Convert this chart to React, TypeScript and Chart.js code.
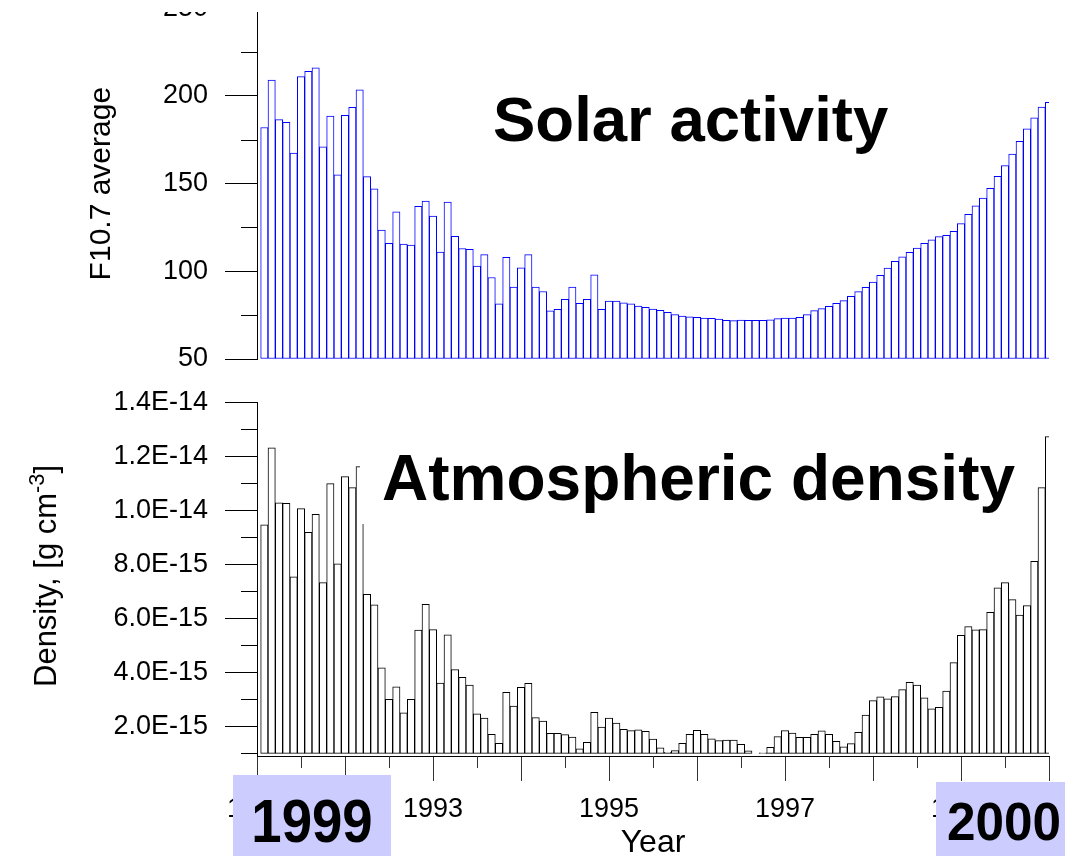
import React, { useEffect, useRef } from 'react';
import { Chart, registerables } from 'chart.js';

Chart.register(...registerables);

const FONT = "'Liberation Sans', Arial, Helvetica, sans-serif";
Chart.defaults.font.family = FONT;
Chart.defaults.color = '#000';

// ---- data ----
const startYear = 1991;
const endYear = 2000;

// monthly F10.7 averages (108 months, 1991-1999)
const solarF107 = [
  182, 209, 186.5, 185, 167.5, 211, 214, 216, 171, 188.5, 155, 189,
  193.5, 203.5, 154, 147, 123.5, 116, 134, 115.5, 115, 137, 140, 131.5,
  111, 139.5, 120, 113, 112.5, 103, 109.5, 96.5, 81.5, 108, 91, 102,
  109.5, 91, 88.5, 77.5, 78.3, 84, 91, 81.7, 84, 98, 78.3, 83,
  83, 82, 81.4, 80.2, 79.5, 78.5, 77.8, 76.6, 75.3, 74.5, 74, 73.8,
  73.4, 73.2, 72.8, 72, 71.9, 72.2, 72, 72, 72, 72.4, 73, 73.4,
  73.4, 73.8, 75.3, 77.6, 78.7, 80, 81.7, 83.3, 85.7, 88.4, 90.9, 93.9,
  97.7, 101.9, 105.7, 108.2, 110.8, 113.3, 116, 118, 119.8, 120.5, 122.8, 127.2,
  132.5, 137.3, 141.7, 147.4, 154.2, 160.3, 166.9, 174.2, 181.2, 187.5, 193.7, 196.4,
];

// monthly atmospheric density in units of 1e-15 g cm^-3
const DENSITY_UNIT = 1e-15;
const densityE15 = [
  9.46, 12.31, 10.28, 10.26, 7.54, 10.06, 9.18, 9.85, 7.32, 10.99, 8.02, 11.25,
  10.84, 11.62, 6.89, 6.5, 4.17, 3.0, 3.46, 2.5, 3.0, 5.56, 6.52, 5.58,
  3.6, 5.39, 4.1, 3.81, 3.53, 2.46, 2.3, 1.7, 1.37, 3.26, 2.75, 3.44,
  3.59, 2.32, 2.19, 1.74, 1.74, 1.69, 1.6, 1.17, 1.41, 2.52, 1.97, 2.3,
  2.12, 1.89, 1.84, 1.87, 1.81, 1.53, 1.2, 1.04, 1.1, 1.37, 1.7, 1.85,
  1.7, 1.54, 1.47, 1.49, 1.49, 1.33, 1.09, 1.0, 1.02, 1.22, 1.62, 1.84,
  1.75, 1.59, 1.59, 1.7, 1.83, 1.7, 1.44, 1.24, 1.36, 1.78, 2.42, 2.95,
  3.09, 3.02, 3.1, 3.36, 3.63, 3.53, 3.05, 2.65, 2.7, 3.3, 4.36, 5.37,
  5.69, 5.57, 5.58, 6.22, 7.13, 7.32, 6.69, 6.12, 6.47, 8.11, 10.84, 12.73,
];

// ticks
const topMajorTicks = [50, 100, 150, 200, 250];
const topTickLabels = ['50', '100', '150', '200', '250'];
const topMinorTicks = [75, 125, 175, 225];

const densityMajorTicks = [2e-15, 4e-15, 6e-15, 8e-15, 1e-14, 1.2e-14, 1.4e-14];
const densityTickLabels = ['2.0E-15', '4.0E-15', '6.0E-15', '8.0E-15', '1.0E-14', '1.2E-14', '1.4E-14'];
const densityMinorTicks = [1e-15, 3e-15, 5e-15, 7e-15, 9e-15, 1.1e-14, 1.3e-14];

const yearTicks = [1991, 1992, 1993, 1994, 1995, 1996, 1997, 1998, 1999, 2000];
const yearLabels = ['1991', '', '1993', '', '1995', '', '1997', '', '1999', ''];
const halfYearTicks = [1991.5, 1992.5, 1993.5, 1994.5, 1995.5, 1996.5, 1997.5, 1998.5, 1999.5];

// ---- plugin for short (minor) tick marks ----
const minorTicksPlugin = {
  id: 'minorTicks',
  afterDraw(chart: any, _args: any, opts: any) {
    const { ctx, chartArea } = chart;
    ctx.save();
    ctx.lineWidth = 1;
    if (opts.y) {
      ctx.strokeStyle = opts.yColor || '#000';
      ctx.beginPath();
      opts.y.forEach((v: number) => {
        const py = Math.round(chart.scales.y.getPixelForValue(v)) + 0.5;
        ctx.moveTo(Math.round(chartArea.left) - opts.yLen, py);
        ctx.lineTo(Math.round(chartArea.left), py);
      });
      ctx.stroke();
    }
    if (opts.x) {
      ctx.strokeStyle = opts.xColor || '#000';
      ctx.beginPath();
      opts.x.forEach((v: number) => {
        const px = Math.round(chart.scales.x.getPixelForValue(v)) + 0.5;
        ctx.moveTo(px, Math.round(chartArea.bottom));
        ctx.lineTo(px, Math.round(chartArea.bottom) + opts.xLen);
      });
      ctx.stroke();
    }
    ctx.restore();
  },
};

const monthX = (i: number) => startYear + (i + 1) / 12;

function makeTopConfig(): any {
  return {
    type: 'bar',
    data: {
      datasets: [
        {
          data: solarF107.map((v, i) => ({ x: monthX(i), y: v })),
          backgroundColor: '#ffffff',
          borderColor: '#0000ff',
          borderWidth: 1,
          borderSkipped: false,
          barPercentage: 1,
          categoryPercentage: 1,
          base: 50,
          clip: 0,
        },
      ],
    },
    options: {
      animation: false,
      responsive: false,
      layout: { padding: { top: 8.3, right: 16, bottom: 13, left: 0 } },
      plugins: {
        legend: { display: false },
        tooltip: { enabled: false },
        minorTicks: { y: topMinorTicks, yLen: 16, yColor: '#000' },
      },
      scales: {
        x: {
          type: 'linear',
          display: false,
          offset: false,
          grid: { offset: false },
          min: startYear,
          max: endYear,
        },
        y: {
          type: 'linear',
          min: 50,
          max: 250,
          afterBuildTicks: (s: any) => {
            s.ticks = topMajorTicks.map((v) => ({ value: v }));
          },
          afterFit: (s: any) => {
            s.width = 257;
            s.paddingTop = 0;
            s.paddingBottom = 0;
          },
          ticks: {
            callback: (_v: any, i: number) => topTickLabels[i],
            font: { size: 27 },
            color: '#000',
            padding: 17,
          },
          grid: { drawOnChartArea: false, tickLength: 32, color: '#000' },
          border: { display: true, color: '#000', width: 1 },
          title: {
            display: true,
            text: 'F10.7 average',
            font: { size: 30 },
            color: '#000',
            padding: { top: 83.6, bottom: 0 },
          },
        },
      },
    },
    plugins: [minorTicksPlugin],
  };
}

function makeBottomConfig(): any {
  return {
    type: 'bar',
    data: {
      datasets: [
        {
          data: densityE15.map((v, i) => ({ x: monthX(i), y: v * DENSITY_UNIT })),
          backgroundColor: '#ffffff',
          borderColor: '#000000',
          borderWidth: 1,
          borderSkipped: false,
          barPercentage: 1,
          categoryPercentage: 1,
          base: 1e-15,
          clip: 0,
        },
      ],
    },
    options: {
      animation: false,
      responsive: false,
      layout: { padding: { top: 22.3, right: 16, bottom: 0, left: 0 } },
      plugins: {
        legend: { display: false },
        tooltip: { enabled: false },
        minorTicks: {
          y: densityMinorTicks,
          yLen: 16,
          yColor: '#000',
          x: halfYearTicks,
          xLen: 12,
          xColor: '#333',
        },
      },
      scales: {
        x: {
          type: 'linear',
          min: startYear,
          max: endYear,
          offset: false,
          afterBuildTicks: (s: any) => {
            s.ticks = yearTicks.map((v) => ({ value: v }));
          },
          afterFit: (s: any) => {
            s.height = 100;
            s.paddingLeft = 0;
            s.paddingRight = 0;
          },
          ticks: {
            autoSkip: false,
            maxRotation: 0,
            minRotation: 0,
            callback: (_v: any, i: number) => yearLabels[i],
            font: { size: 27 },
            color: '#000',
            padding: 12.4,
          },
          grid: { offset: false, drawOnChartArea: false, tickLength: 25, color: '#333' },
          border: { display: true, color: '#000', width: 1 },
          title: {
            display: true,
            text: 'Year',
            font: { size: 32, lineHeight: 0.8 },
            color: '#000',
            padding: 0,
          },
        },
        y: {
          type: 'linear',
          min: 0.9e-15,
          max: 1.4e-14,
          afterBuildTicks: (s: any) => {
            s.ticks = densityMajorTicks.map((v) => ({ value: v }));
          },
          afterFit: (s: any) => {
            s.width = 257;
            s.paddingTop = 0;
            s.paddingBottom = 0;
          },
          ticks: {
            callback: (_v: any, i: number) => densityTickLabels[i],
            font: { size: 27 },
            color: '#000',
            padding: 17,
          },
          grid: { drawOnChartArea: false, tickLength: 32, color: '#000' },
          border: { display: true, color: '#000', width: 1 },
        },
      },
    },
    plugins: [minorTicksPlugin],
  };
}

export default function App() {
  const topRef = useRef<HTMLCanvasElement>(null);
  const botRef = useRef<HTMLCanvasElement>(null);

  useEffect(() => {
    const c1 = new Chart(topRef.current as HTMLCanvasElement, makeTopConfig());
    const c2 = new Chart(botRef.current as HTMLCanvasElement, makeBottomConfig());
    return () => {
      c1.destroy();
      c2.destroy();
    };
  }, []);

  return (
    <div
      style={{
        position: 'absolute',
        left: 0,
        top: 0,
        width: 1065,
        height: 856,
        overflow: 'hidden',
        background: '#fff',
        fontFamily: FONT,
        color: '#000',
      }}
    >
      <div style={{ position: 'absolute', left: 0, top: 12, width: 1065, height: 360, overflow: 'hidden' }}>
        <canvas ref={topRef} width={1065} height={372} style={{ position: 'absolute', left: 0, top: -12 }} />
      </div>
      <canvas ref={botRef} width={1065} height={476} style={{ position: 'absolute', left: 0, top: 380 }} />

      <div
        style={{
          position: 'absolute',
          left: 493,
          top: 88.25,
          fontSize: 63.5,
          lineHeight: '63.5px',
          fontWeight: 'bold',
          whiteSpace: 'nowrap',
        }}
      >
        Solar activity
      </div>

      <div
        style={{
          position: 'absolute',
          left: 360,
          top: 440,
          padding: '5.8px 8px 13.8px 22px',
          background: '#fff',
          fontSize: 64,
          lineHeight: '64px',
          fontWeight: 'bold',
          whiteSpace: 'nowrap',
        }}
      >
        Atmospheric density
      </div>

      <div
        style={{
          position: 'absolute',
          left: 47.3,
          top: 576,
          transform: 'translate(-50%, -50%) rotate(-90deg)',
          whiteSpace: 'nowrap',
          fontSize: 31,
          lineHeight: '31px',
        }}
      >
        Density, [g cm<span style={{ position: 'relative', top: '-0.55em', fontSize: '0.7em' }}>-3</span>]
      </div>

      <div style={{ position: 'absolute', left: 233, top: 775, width: 158, height: 81, background: '#ccccff' }} />
      <div
        style={{
          position: 'absolute',
          left: 233,
          top: 789.5,
          width: 158,
          textAlign: 'center',
          fontSize: 62,
          lineHeight: '62px',
          fontWeight: 'bold',
          transform: 'scaleX(0.88)',
        }}
      >
        1999
      </div>

      <div style={{ position: 'absolute', left: 936, top: 782, width: 129, height: 74, background: '#ccccff' }} />
      <div
        style={{
          position: 'absolute',
          left: 944,
          top: 794.3,
          width: 120,
          textAlign: 'center',
          fontSize: 54,
          lineHeight: '54px',
          fontWeight: 'bold',
          transform: 'scaleX(0.95)',
        }}
      >
        2000
      </div>
    </div>
  );
}
